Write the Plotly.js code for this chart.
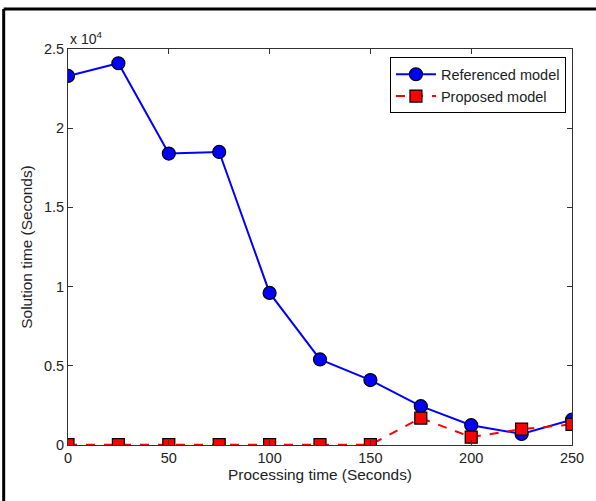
<!DOCTYPE html>
<html>
<head>
<meta charset="utf-8">
<script src="https://cdn.plot.ly/plotly-3.0.1.min.js"></script>
<style>html,body{margin:0;padding:0;background:#fff;}#chart{width:596px;height:501px;}</style>
</head>
<body>
<div id="chart"></div>
<script>
var processingTime = [0, 25, 50, 75, 100, 125, 150, 175, 200, 225, 250];
var referencedModel = [23300, 24100, 18400, 18500, 9600, 5400, 4100, 2450, 1250, 700, 1600];
var proposedModel = [20, 20, 20, 20, 20, 20, 20, 1700, 500, 1000, 1300];
var xTicks = [0, 50, 100, 150, 200, 250];
var yTickVals = [0, 5000, 10000, 15000, 20000, 25000];
var yTickText = ['0', '0.5', '1', '1.5', '2', '2.5'];

var fam = 'Liberation Sans, Arial, sans-serif';
var tickFont = {family: fam, size: 14.5, color: '#222'};
var titleFont = {family: fam, size: 15.4, color: '#222'};

var traces = [
  {x: processingTime, y: referencedModel, name: 'Referenced model', type: 'scatter', mode: 'lines+markers',
   line: {color: '#0000ff', width: 2},
   marker: {symbol: 'circle', size: 13, color: '#0000ff', line: {color: '#000', width: 1.2}}},
  {x: processingTime, y: proposedModel, name: 'Proposed model', type: 'scatter', mode: 'lines+markers',
   line: {color: '#ff0000', width: 2, dash: 'dash'},
   marker: {symbol: 'square', size: 12, color: '#ff0000', line: {color: '#000', width: 1.2}}}
];

var layout = {
  width: 596, height: 501,
  margin: {l: 68, r: 24, t: 49, b: 56},
  paper_bgcolor: '#fff', plot_bgcolor: '#fff',
  font: tickFont,
  showlegend: true,
  legend: {x: 0.988, y: 0.979, xanchor: 'right', yanchor: 'top', bgcolor: '#fff',
           bordercolor: '#000', borderwidth: 1, font: {family: fam, size: 14.5, color: '#222'},
           tracegroupgap: 0, itemwidth: 40},
  xaxis: {range: [0, 250], tickvals: xTicks, ticks: 'inside', ticklen: 5, tickcolor: '#333',
          showline: true, linecolor: '#333', linewidth: 1, mirror: 'ticks', showgrid: false, zeroline: false,
          title: {text: 'Processing time (Seconds)', font: titleFont, standoff: 3},
          tickfont: tickFont},
  yaxis: {range: [0, 25000], tickvals: yTickVals, ticktext: yTickText, ticks: 'inside', ticklen: 5, tickcolor: '#333',
          showline: true, linecolor: '#333', linewidth: 1, mirror: 'ticks', showgrid: false, zeroline: false,
          title: {text: 'Solution time (Seconds)', font: titleFont, standoff: 7},
          tickfont: tickFont},
  annotations: [{xref: 'paper', yref: 'paper', x: 0, y: 1, xanchor: 'left', yanchor: 'bottom', yshift: 0,
                 showarrow: false, text: 'x 10<sup>4</sup>', font: {family: fam, size: 14, color: '#222'}}],
  shapes: [
    {type: 'line', xref: 'paper', yref: 'paper', x0: -0.1276, x1: 1.05, y0: 1.1009, y1: 1.1009, line: {color: '#000', width: 3}},
    {type: 'line', xref: 'paper', yref: 'paper', x0: -0.1276, x1: -0.1276, y0: 1.1009, y1: -0.15, line: {color: '#000', width: 3}}
  ]
};

Plotly.newPlot('chart', traces, layout, {displayModeBar: false, staticPlot: true});
</script>
</body>
</html>
